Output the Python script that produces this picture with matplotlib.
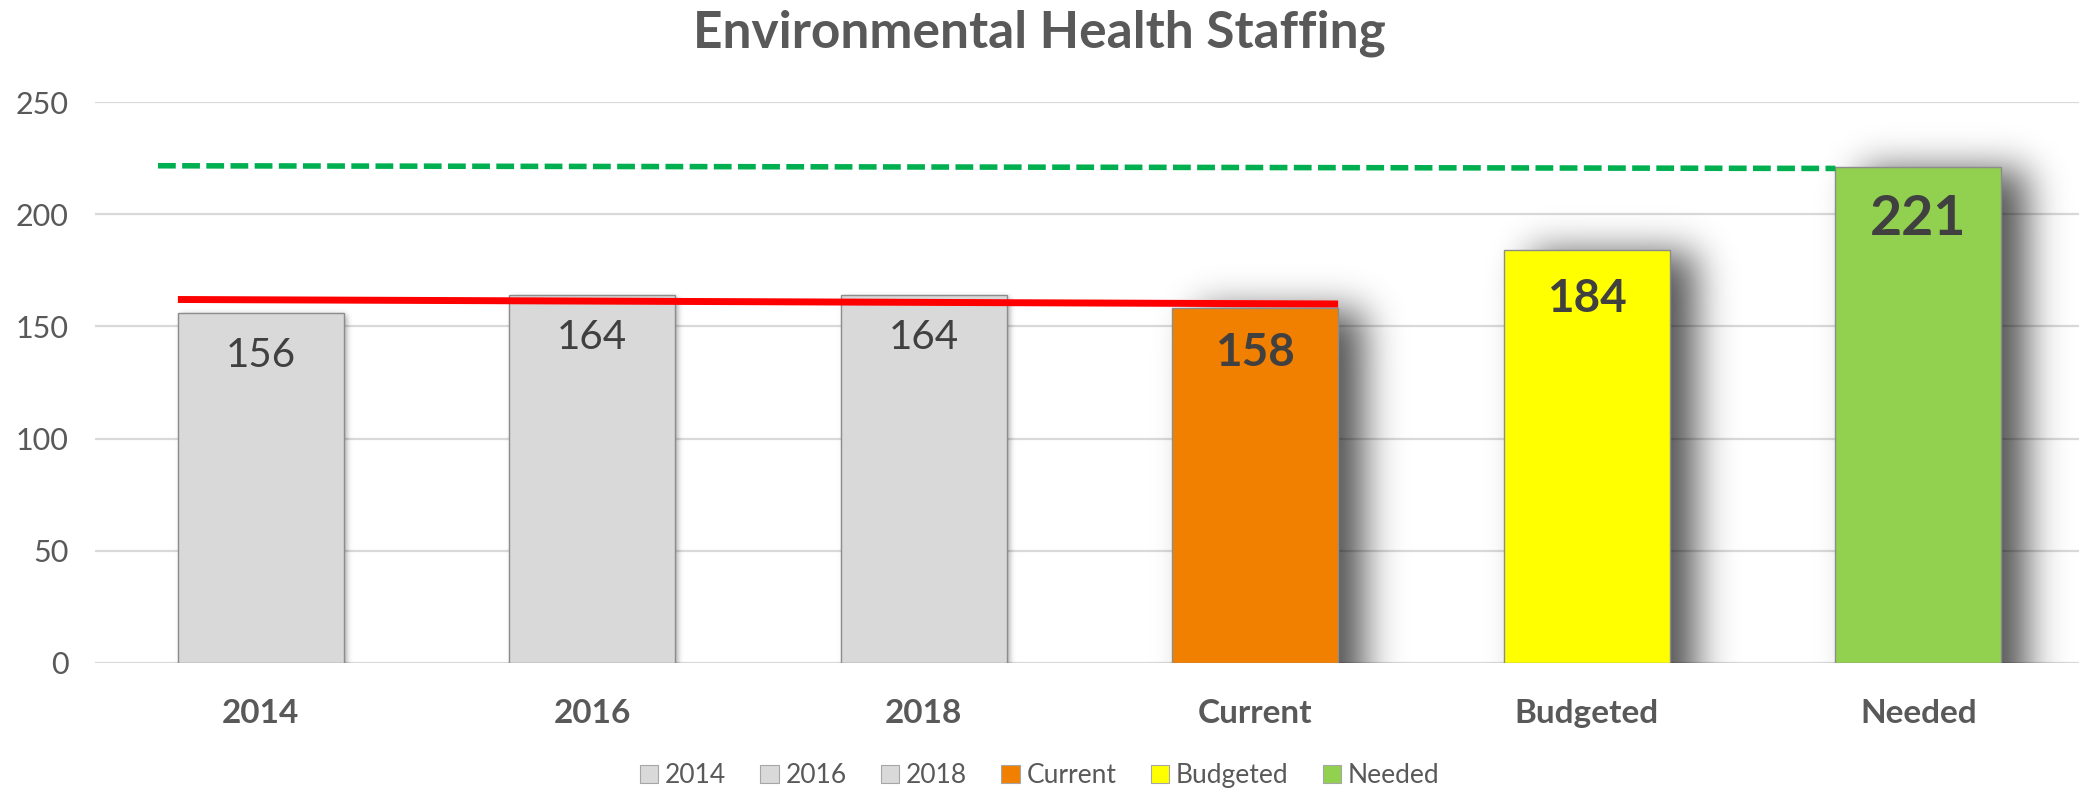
import math
import numpy as np
import matplotlib
matplotlib.use("Agg")
import matplotlib.pyplot as plt
from matplotlib.patches import Patch

plt.rcParams['font.family'] = ['Lato', 'DejaVu Sans']

categories = ["2014", "2016", "2018", "Current", "Budgeted", "Needed"]
values = [156, 164, 164, 158, 184, 221]
bar_colors = ["#D9D9D9", "#D9D9D9", "#D9D9D9", "#F28000", "#FFFF00", "#92D050"]
label_bold = [False, False, False, True, True, True]
trend_red = [162, 160]          # from 2014 bar left edge to Current bar right edge
target_green = [221.6, 220.4]   # dashed target line up to Needed bar
yticks = [0, 50, 100, 150, 200, 250]

W, H = 2079, 794
fig = plt.figure(figsize=(W / 100, H / 100), dpi=100)
ax = fig.add_axes([0.0457, 0.165, 0.9543, 0.7065])
ax.set_xlim(-0.5, 5.485)
ax.set_ylim(0, 250)

for s in ax.spines.values():
    s.set_visible(False)
ax.set_yticks(yticks)
ax.yaxis.grid(True, color="#D9D9D9", lw=1.6)
ax.set_axisbelow(True)
ax.tick_params(axis="y", length=0, pad=19, labelsize=22, labelcolor="#595959")
ax.tick_params(axis="x", length=0, pad=26, labelsize=24, labelcolor="#595959")
x = np.arange(len(categories))
ax.set_xticks(x)
ax.set_xticklabels(categories, fontweight="bold")

bw = 0.5
px_per_x = W * 0.9543 / 5.985
px_per_y = H * 0.7065 / 250.0
erf = np.frompyfunc(math.erf, 1, 1)

def shadow(xc, top, dx_px, sig_px, amax, zo):
    left = xc - bw / 2 + dx_px / px_per_x
    right = xc + bw / 2 + dx_px / px_per_x
    tp = top - 2 / px_per_y
    sx = sig_px / px_per_x
    sy = sig_px / px_per_y
    x0, x1 = left - 4 * sx, right + 4 * sx
    y0, y1 = 0, tp + 4 * sy
    xs = np.linspace(x0, x1, 300)
    ys = np.linspace(y0, y1, 300)
    fx = 0.5 * (erf((xs - left) / (sx * 1.414)).astype(float) - erf((xs - right) / (sx * 1.414)).astype(float))
    fy = 0.5 * (1.0 - erf((ys - tp) / (sy * 1.414)).astype(float))
    a = np.outer(fy, fx) * amax
    img = np.zeros((len(ys), len(xs), 4))
    img[..., 3] = a
    ax.imshow(img, extent=[x0, x1, y0, y1], origin="lower", aspect="auto",
              zorder=zo, interpolation="bilinear")

for i, v in enumerate(values):
    if i >= 3:
        shadow(x[i], v, 26, 19, 0.68, 1.5)
    else:
        shadow(x[i], v, 3, 3, 0.35, 1.5)

ax.bar(x, values, width=bw, color=bar_colors, edgecolor="#8C8C8C", linewidth=1.0, zorder=2)
ax.set_xlim(-0.5, 5.485)
ax.set_ylim(0, 250)

label_size = [29, 29, 29, 33, 33, 40]
label_off = [19, 19, 19, 20, 22, 23]
for i, v in enumerate(values):
    ax.text(x[i], v - label_off[i], str(v), ha="center", va="center",
            fontsize=label_size[i], color="#404040",
            fontweight="bold" if label_bold[i] else "normal", zorder=4)

ax.plot([x[0] - bw / 2, x[3] + bw / 2], trend_red, color="#FF0000", lw=5.0,
        solid_capstyle="butt", zorder=5)
ax.plot([-0.31, x[5] - bw / 2], target_green, color="#00B050", lw=4.0,
        dashes=(3.2, 1.15), zorder=5)

fig.text(0.5, 0.958, "Environmental Health Staffing", ha="center", va="center",
         fontsize=37, fontweight="bold", color="#595959")

handles = [Patch(facecolor=c, edgecolor="#A6A6A6", linewidth=0.8) for c in bar_colors]
leg = fig.legend(handles, categories, loc="center", bbox_to_anchor=(0.5, 0.023),
                 ncol=6, frameon=False, fontsize=19, handlelength=0.7, handleheight=0.7,
                 handletextpad=0.25, columnspacing=1.3, labelcolor="#595959")

fig.savefig("out.png", dpi=100)
